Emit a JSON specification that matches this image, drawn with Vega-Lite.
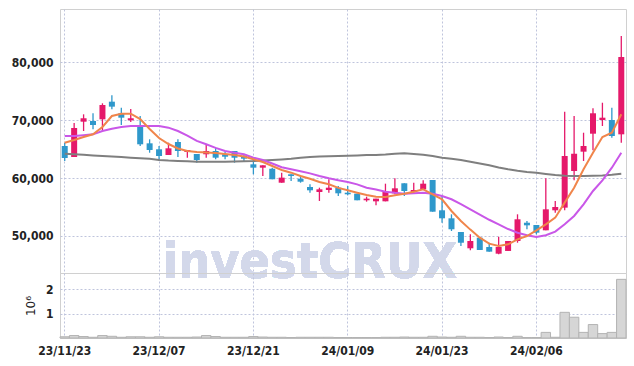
{
  "$schema": "https://vega.github.io/schema/vega-lite/v6.json",
  "padding": {"left": 10, "top": 8, "right": 7, "bottom": 0},
  "background": "white",
  "spacing": 0,
  "bounds": "flush",
  "config": {
    "font": "DejaVu Sans Condensed",
    "view": {"stroke": "#d0d0d0"},
    "axis": {
      "labelFont": "DejaVu Sans Condensed",
      "labelFontWeight": "bold",
      "labelFontSize": 12,
      "labelColor": "#222222",
      "ticks": false,
      "domain": false,
      "gridColor": "#bfc4dc",
      "gridDash": [2, 2],
      "gridWidth": 1,
      "titleFont": "DejaVu Sans",
      "titleFontWeight": "normal",
      "titleColor": "#222222"
    }
  },
  "data": {"values": [
    {"d":"23/11/23","o":65520,"h":66040,"l":62930,"c":63450,"v":0.05,"m5":66090,"m20":67240,"m60":64190},
    {"d":"23/11/24","o":63620,"h":69480,"l":63620,"c":68620,"v":0.10,"m5":66550,"m20":67240,"m60":64100},
    {"d":"23/11/27","o":69710,"h":70980,"l":68100,"c":70300,"v":0.06,"m5":67070,"m20":67380,"m60":64000},
    {"d":"23/11/28","o":69830,"h":71160,"l":68400,"c":69140,"v":0.03,"m5":67530,"m20":67530,"m60":63900},
    {"d":"23/11/29","o":70120,"h":72880,"l":68100,"c":72590,"v":0.10,"m5":68800,"m20":68100,"m60":63800},
    {"d":"23/11/30","o":73160,"h":74260,"l":71850,"c":72300,"v":0.07,"m5":70690,"m20":68500,"m60":63700},
    {"d":"23/12/01","o":71160,"h":72120,"l":69140,"c":70400,"v":0.03,"m5":71090,"m20":68800,"m60":63600},
    {"d":"23/12/04","o":69950,"h":71900,"l":69660,"c":70300,"v":0.05,"m5":71090,"m20":68970,"m60":63500},
    {"d":"23/12/05","o":69090,"h":70690,"l":65520,"c":65810,"v":0.05,"m5":70170,"m20":68970,"m60":63400},
    {"d":"23/12/06","o":65980,"h":66670,"l":64360,"c":64830,"v":0.03,"m5":68450,"m20":68970,"m60":63300},
    {"d":"23/12/07","o":64950,"h":65520,"l":62930,"c":63790,"v":0.05,"m5":66900,"m20":68970,"m60":63100},
    {"d":"23/12/08","o":63970,"h":66090,"l":63970,"c":65120,"v":0.03,"m5":65860,"m20":68680,"m60":63000},
    {"d":"23/12/11","o":66210,"h":66670,"l":63620,"c":64660,"v":0.03,"m5":65090,"m20":68100,"m60":62950},
    {"d":"23/12/12","o":64480,"h":64830,"l":63500,"c":64830,"v":0.03,"m5":64660,"m20":67300,"m60":62900},
    {"d":"23/12/13","o":64140,"h":64140,"l":62640,"c":63100,"v":0.04,"m5":64480,"m20":66400,"m60":62800},
    {"d":"23/12/14","o":64090,"h":65810,"l":63500,"c":64660,"v":0.10,"m5":64400,"m20":65810,"m60":62800},
    {"d":"23/12/15","o":64660,"h":65230,"l":63230,"c":63500,"v":0.06,"m5":64310,"m20":65200,"m60":62800},
    {"d":"23/12/18","o":64090,"h":64480,"l":63230,"c":63670,"v":0.03,"m5":64140,"m20":64660,"m60":62800},
    {"d":"23/12/19","o":64660,"h":64660,"l":62640,"c":63500,"v":0.03,"m5":63970,"m20":64360,"m60":62850},
    {"d":"23/12/20","o":63790,"h":64090,"l":62930,"c":63330,"v":0.03,"m5":63710,"m20":64090,"m60":62900},
    {"d":"23/12/21","o":62360,"h":63230,"l":60640,"c":61780,"v":0.06,"m5":63230,"m20":63500,"m60":62930},
    {"d":"23/12/22","o":61780,"h":62190,"l":60350,"c":62190,"v":0.04,"m5":62760,"m20":63100,"m60":63000},
    {"d":"23/12/26","o":61600,"h":61780,"l":59780,"c":59780,"v":0.03,"m5":62070,"m20":62500,"m60":63100},
    {"d":"23/12/27","o":59190,"h":60920,"l":59190,"c":60060,"v":0.03,"m5":61380,"m20":61850,"m60":63200},
    {"d":"23/12/28","o":60640,"h":60640,"l":59480,"c":60350,"v":0.02,"m5":60920,"m20":61500,"m60":63330},
    {"d":"24/01/02","o":59880,"h":60350,"l":59190,"c":59360,"v":0.03,"m5":60350,"m20":61150,"m60":63500},
    {"d":"24/01/03","o":58450,"h":58910,"l":57470,"c":57880,"v":0.03,"m5":59880,"m20":60800,"m60":63600},
    {"d":"24/01/04","o":57590,"h":58330,"l":56040,"c":58050,"v":0.03,"m5":59310,"m20":60350,"m60":63700},
    {"d":"24/01/05","o":57930,"h":59780,"l":57470,"c":58330,"v":0.03,"m5":58910,"m20":59950,"m60":63750},
    {"d":"24/01/08","o":58330,"h":58620,"l":56900,"c":57360,"v":0.02,"m5":58300,"m20":59600,"m60":63800},
    {"d":"24/01/09","o":57470,"h":58620,"l":57020,"c":57190,"v":0.02,"m5":57880,"m20":59300,"m60":63850},
    {"d":"24/01/10","o":57300,"h":57300,"l":56160,"c":56160,"v":0.02,"m5":57470,"m20":58900,"m60":63900},
    {"d":"24/01/11","o":56160,"h":56780,"l":55920,"c":56440,"v":0.02,"m5":57070,"m20":58330,"m60":63950},
    {"d":"24/01/12","o":55980,"h":56440,"l":55300,"c":56440,"v":0.02,"m5":56780,"m20":58000,"m60":63970},
    {"d":"24/01/15","o":55980,"h":59020,"l":55980,"c":57590,"v":0.03,"m5":56730,"m20":57640,"m60":64050},
    {"d":"24/01/16","o":57360,"h":59950,"l":57190,"c":58220,"v":0.03,"m5":57020,"m20":57450,"m60":64200},
    {"d":"24/01/17","o":59090,"h":59090,"l":56900,"c":57760,"v":0.04,"m5":57300,"m20":57300,"m60":64250},
    {"d":"24/01/18","o":57590,"h":59190,"l":57470,"c":57930,"v":0.03,"m5":57640,"m20":57350,"m60":64150},
    {"d":"24/01/19","o":58050,"h":59610,"l":58050,"c":59020,"v":0.03,"m5":58050,"m20":57470,"m60":64000},
    {"d":"24/01/22","o":59660,"h":59660,"l":54190,"c":54190,"v":0.07,"m5":57190,"m20":57300,"m60":63800},
    {"d":"24/01/23","o":54430,"h":56900,"l":52290,"c":53050,"v":0.04,"m5":56330,"m20":56900,"m60":63500},
    {"d":"24/01/24","o":53050,"h":53740,"l":50860,"c":51160,"v":0.03,"m5":54310,"m20":56330,"m60":63300},
    {"d":"24/01/25","o":50690,"h":50690,"l":48280,"c":48840,"v":0.07,"m5":52590,"m20":55500,"m60":63100},
    {"d":"24/01/26","o":47880,"h":50290,"l":47540,"c":49140,"v":0.03,"m5":51100,"m20":54600,"m60":62800},
    {"d":"24/01/29","o":49710,"h":49710,"l":47590,"c":47590,"v":0.03,"m5":49710,"m20":53700,"m60":62500},
    {"d":"24/01/30","o":48100,"h":48840,"l":47300,"c":47300,"v":0.02,"m5":48680,"m20":52800,"m60":62200},
    {"d":"24/01/31","o":46950,"h":49880,"l":46850,"c":48100,"v":0.04,"m5":48280,"m20":52010,"m60":61800},
    {"d":"24/02/01","o":47420,"h":49140,"l":47420,"c":49140,"v":0.02,"m5":48570,"m20":51200,"m60":61500},
    {"d":"24/02/02","o":49140,"h":53740,"l":48840,"c":52880,"v":0.07,"m5":49430,"m20":50570,"m60":61250},
    {"d":"24/02/05","o":52290,"h":52590,"l":51160,"c":51840,"v":0.02,"m5":50000,"m20":50120,"m60":61050},
    {"d":"24/02/06","o":51900,"h":51900,"l":50290,"c":50570,"v":0.02,"m5":50980,"m20":49830,"m60":60900},
    {"d":"24/02/07","o":50980,"h":59950,"l":50980,"c":54600,"v":0.23,"m5":52010,"m20":50120,"m60":60700},
    {"d":"24/02/08","o":54430,"h":56040,"l":54020,"c":55000,"v":0.03,"m5":53160,"m20":50750,"m60":60520},
    {"d":"24/02/13","o":54890,"h":71430,"l":54430,"c":63790,"v":1.05,"m5":55750,"m20":52010,"m60":60400},
    {"d":"24/02/14","o":61210,"h":70690,"l":59600,"c":64190,"v":0.85,"m5":58330,"m20":53450,"m60":60350},
    {"d":"24/02/15","o":64540,"h":67810,"l":62930,"c":65520,"v":0.23,"m5":61500,"m20":55470,"m60":60350},
    {"d":"24/02/16","o":67640,"h":72020,"l":64780,"c":71160,"v":0.55,"m5":64360,"m20":57760,"m60":60400},
    {"d":"24/02/19","o":70000,"h":72980,"l":68970,"c":70400,"v":0.18,"m5":67070,"m20":59600,"m60":60450},
    {"d":"24/02/20","o":70000,"h":72120,"l":66950,"c":67240,"v":0.23,"m5":67810,"m20":61780,"m60":60550},
    {"d":"24/02/21","o":67530,"h":84480,"l":66090,"c":80860,"v":2.40,"m5":70980,"m20":64360,"m60":60740}
  ]},
  "vconcat": [
    {
      "width": 566,
      "height": 264,
      "encoding": {
        "x": {
          "field": "d", "type": "ordinal",
          "scale": {"paddingInner": 0, "paddingOuter": 0},
          "axis": {"values": ["23/11/23","23/12/07","23/12/21","24/01/09","24/01/23","24/02/06"], "labels": false, "title": null, "grid": true, "bandPosition": 0.5}
        }
      },
      "layer": [
        {
          "mark": {"type": "text", "text": "investCRUX", "font": "DejaVu Sans Condensed", "fontSize": 50, "fontWeight": "bold", "color": "#d3d8ea", "align": "center", "baseline": "alphabetic"},
          "encoding": {
            "x": {"datum": "24/01/03", "type": "ordinal"},
            "y": {"datum": 42760, "type": "quantitative"}
          }
        },
        {
          "mark": {"type": "rule", "strokeWidth": 1.3},
          "encoding": {
            "y": {"field": "l", "type": "quantitative", "scale": {"domain": [43620, 89140], "nice": false, "zero": false},
                  "axis": {"values": [50000, 60000, 70000, 80000], "format": ",d", "title": null, "grid": true, "labelPadding": 7}},
            "y2": {"field": "h"},
            "color": {"condition": {"test": "datum.c >= datum.o", "value": "#e5196a"}, "value": "#2f98cb"}
          }
        },
        {
          "mark": {"type": "bar", "size": 6},
          "encoding": {
            "y": {"field": "o", "type": "quantitative"},
            "y2": {"field": "c"},
            "color": {"condition": {"test": "datum.c >= datum.o", "value": "#e5196a"}, "value": "#2f98cb"}
          }
        },
        {
          "mark": {"type": "line", "color": "#7f7f7f", "strokeWidth": 2},
          "encoding": {"y": {"field": "m60", "type": "quantitative"}}
        },
        {
          "mark": {"type": "line", "color": "#c957e8", "strokeWidth": 2},
          "encoding": {"y": {"field": "m20", "type": "quantitative"}}
        },
        {
          "mark": {"type": "line", "color": "#f0854b", "strokeWidth": 2},
          "encoding": {"y": {"field": "m5", "type": "quantitative"}}
        }
      ]
    },
    {
      "width": 566,
      "height": 65,
      "mark": {"type": "bar", "color": "#d6d6d6", "stroke": "#b3b3b3", "strokeWidth": 1},
      "encoding": {
        "x": {
          "field": "d", "type": "ordinal",
          "scale": {"paddingInner": 0, "paddingOuter": 0},
          "axis": {"values": ["23/11/23","23/12/07","23/12/21","24/01/09","24/01/23","24/02/06"], "title": null, "grid": true, "bandPosition": 0.5, "labelAngle": 0, "labelPadding": 7, "domain": true, "domainColor": "#c8c8c8"}
        },
        "y": {
          "field": "v", "type": "quantitative",
          "scale": {"domain": [0, 2.66], "nice": false},
          "axis": {"values": [1, 2], "title": "10⁶", "titleFontSize": 12, "titlePadding": 8, "grid": true, "labelPadding": 7}
        }
      }
    }
  ]
}
